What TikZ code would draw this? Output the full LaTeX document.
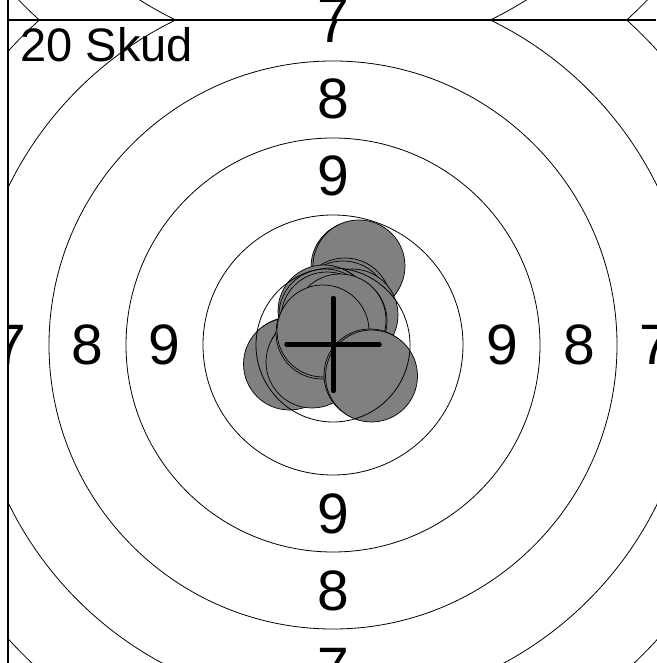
\documentclass[tikz,border=0pt]{standalone}
\usepackage{fontspec}
\setmainfont{Liberation Sans}
\usepackage{xcolor}
\usepackage{tikz}

\begin{document}
\begin{tikzpicture}[
  x=1pt, y=1pt,
  ring/.style={draw, line width=0.8pt},
  shot/.style={draw, circle, minimum size=92pt, inner sep=0pt, fill=gray, line width=0.7pt},
  score/.style={font=\fontsize{57}{60}\selectfont, inner sep=0pt},
  cellline/.style={draw, line width=1.3pt},
  cross/.style={line width=4.5pt, line cap=round}
]
  \useasboundingbox (-333,-318) rectangle (323,345);
  \fill[white] (-333,-318) rectangle (323,345);

  % 上方的靶（只露出下缘）
  \begin{scope}
    \clip (-325,325) rectangle (325,975);
    \draw[ring] (0,650) circle (361pt);
    \draw[ring] (0,650) circle (438pt);
    \node[score] (up7) at (0,327.5) {7};
  \end{scope}

  % 本靶
  \begin{scope}
    \clip (-325,-325) rectangle (325,325);

    % 弹孔
    \node[shot] (s1) at (-42,-18) {};
    \node[shot] (s2) at (-43.5,-19) {};
    \node[shot] (s3) at (-20,-15) {};
    \node[shot] (s4) at (-21,-17) {};
    \node[shot] (s5) at (24,78) {};
    \node[shot] (s6) at (26,79) {};
    \node[shot] (s7) at (12,41) {};
    \node[shot] (s8) at (10,38) {};
    \node[shot] (s9) at (18,29) {};
    \node[shot] (s10) at (19,30) {};
    \node[shot] (s11) at (-7,33) {};
    \node[shot] (s12) at (-9,34) {};
    \node[shot] (s13) at (-8,30) {};
    \node[shot] (s14) at (-6,27) {};
    \node[shot] (s15) at (8,24) {};
    \node[shot] (s16) at (7,25) {};
    \node[shot] (s17) at (-11,12) {};
    \node[shot] (s18) at (-10,14) {};
    \node[shot] (s19) at (37,-30) {};
    \node[shot] (s20) at (38.5,-31) {};

    % 环
    \draw[ring] (0,0) circle (77pt);
    \draw[ring] (0,0) circle (130pt);
    \draw[ring] (0,0) circle (207pt);
    \draw[ring] (0,0) circle (284pt);
    \draw[ring] (0,0) circle (361pt);
    \draw[ring] (0,0) circle (438pt);

    % 环值
    \node[score] (t9) at (0,169) {9};
    \node[score] (t8) at (0,246) {8};
    \node[score] (t7) at (0,322.5) {7};
    \node[score] (b9) at (0,-169) {9};
    \node[score] (b8) at (0,-246) {8};
    \node[score] (b7) at (0,-322.5) {7};
    \node[score] (l9) at (-169,0) {9};
    \node[score] (l8) at (-246,0) {8};
    \node[score] (l7) at (-322.5,0) {7};
    \node[score] (r9) at (169,0) {9};
    \node[score] (r8) at (246,0) {8};
    \node[score] (r7) at (322.5,0) {7};

    \node[font=\fontsize{47}{50}\selectfont, inner sep=0pt, anchor=base west]
      (count) at (-312.5,283) {20 Skud};
  \end{scope}

  % 十字
  \draw[cross] (-46.5,0.5) -- (46.5,0.5);
  \draw[cross] (0.3,-46) -- (0.3,47);

  % 格线
  \draw[cellline] (-325,-318) -- (-325,345);
  \draw[cellline] (-325,325) -- (323,325);
\end{tikzpicture}
\end{document}
